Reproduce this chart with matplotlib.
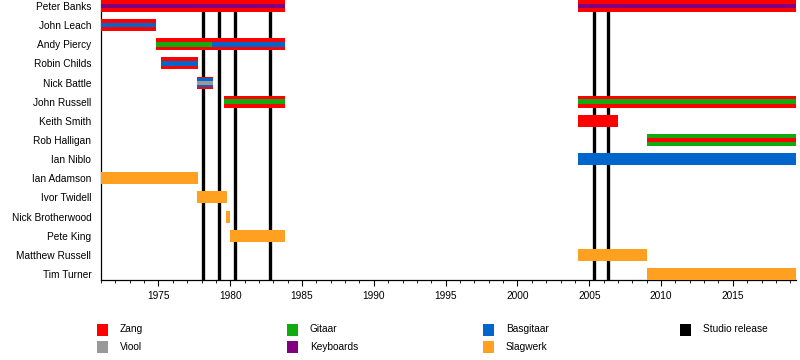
import matplotlib
matplotlib.use("Agg")
import matplotlib.pyplot as plt
from matplotlib.patches import Rectangle
from matplotlib.ticker import MultipleLocator

plt.rcParams['font.family'] = ['Liberation Sans', 'DejaVu Sans']

members = ["Peter Banks", "John Leach", "Andy Piercy", "Robin Childs", "Nick Battle",
           "John Russell", "Keith Smith", "Rob Halligan", "Ian Niblo", "Ian Adamson",
           "Ivor Twidell", "Nick Brotherwood", "Pete King", "Matthew Russell", "Tim Turner"]

start_year = 1971.0
end_year = 2019.4

# bars: member, start, end, roles (outer -> inner)
bar_member = ["Peter Banks", "Peter Banks", "John Leach", "Andy Piercy", "Andy Piercy",
              "Robin Childs", "Nick Battle", "John Russell", "John Russell", "Keith Smith",
              "Rob Halligan", "Ian Niblo", "Ian Adamson", "Ivor Twidell", "Nick Brotherwood",
              "Pete King", "Matthew Russell", "Tim Turner"]
bar_start = [1971.0, 2004.2, 1971.0, 1974.8, 1978.7,
             1975.2, 1977.7, 1979.55, 2004.2, 2004.2,
             2009.0, 2004.2, 1971.0, 1977.7, 1979.7,
             1979.95, 2004.2, 2009.0]
bar_end = [1983.8, 2019.4, 1974.8, 1978.7, 1983.8,
           1977.75, 1978.8, 1983.8, 2019.4, 2007.0,
           2019.4, 2019.4, 1977.75, 1979.75, 1980.0,
           1983.8, 2009.0, 2019.4]
bar_roles = [["Zang", "Keyboards"], ["Zang", "Keyboards"], ["Zang", "Basgitaar"],
             ["Zang", "Gitaar"], ["Zang", "Basgitaar"], ["Zang", "Basgitaar"],
             ["Zang", "Basgitaar", "Viool"], ["Zang", "Gitaar"], ["Zang", "Gitaar"],
             ["Zang"], ["Gitaar", "Zang"], ["Basgitaar"], ["Slagwerk"], ["Slagwerk"],
             ["Slagwerk"], ["Slagwerk"], ["Slagwerk"], ["Slagwerk"]]

releases = [1978.1, 1979.2, 1980.3, 1982.8, 2005.3, 2006.3]

role_names = ["Zang", "Viool", "Gitaar", "Keyboards", "Basgitaar", "Slagwerk", "Studio release"]
role_colors = {"Zang": "#FF0000", "Viool": "#999999", "Gitaar": "#11AA11",
               "Keyboards": "#800080", "Basgitaar": "#0066CC", "Slagwerk": "#FFA020",
               "Studio release": "#000000"}

fig = plt.figure(figsize=(8, 3.6), dpi=100)
ax = fig.add_axes([101/800, 80/360, 695/800, 280/360])

full_h = 0.627
heights = {1: [full_h], 2: [full_h, 0.235], 3: [full_h, 0.45, 0.21]}
row = {m: i for i, m in enumerate(members)}

for m, s, e, roles in zip(bar_member, bar_start, bar_end, bar_roles):
    hs = heights[len(roles)]
    for r, h in zip(roles, hs):
        ax.barh(row[m], e - s, left=s, height=h, color=role_colors[r],
                linewidth=0, zorder=3, clip_on=False)

for x in releases:
    ax.axvline(x, color="black", linewidth=2.4, zorder=2)

ax.set_xlim(start_year, end_year)
ax.set_ylim(len(members) - 1 + full_h / 2, -full_h / 2)
ax.set_yticks(range(len(members)))
ax.set_yticklabels(members, fontsize=7.3)
ax.tick_params(axis="y", length=0, pad=7)
ax.xaxis.set_major_locator(MultipleLocator(5))
ax.xaxis.set_minor_locator(MultipleLocator(1))
ax.set_xticks(range(1975, 2020, 5))
ax.tick_params(axis="x", which="major", length=4, width=0.8, labelsize=7.3, pad=4)
ax.tick_params(axis="x", which="minor", length=2, width=0.6)
for sp in ["top", "right"]:
    ax.spines[sp].set_visible(False)
for sp in ["left", "bottom"]:
    ax.spines[sp].set_linewidth(0.9)
    ax.spines[sp].set_color("black")

# legend
legend_order = ["Zang", "Gitaar", "Basgitaar", "Studio release", "Viool", "Keyboards", "Slagwerk"]
col_x = [97, 287, 483, 680]
row_y = [329.5, 347]
for i, name in enumerate(legend_order):
    c = i % 4 if i < 4 else (i - 4)
    r = 0 if i < 4 else 1
    x0 = col_x[c]
    yc = row_y[r]
    fig.add_artist(Rectangle((x0 / 800, 1 - (yc + 6) / 360), 11 / 800, 12 / 360,
                             transform=fig.transFigure, color=role_colors[name], linewidth=0))
    fig.text((x0 + 23) / 800, 1 - yc / 360, name, fontsize=7.3, va="center", ha="left")

fig.savefig("out.png", dpi=100)
